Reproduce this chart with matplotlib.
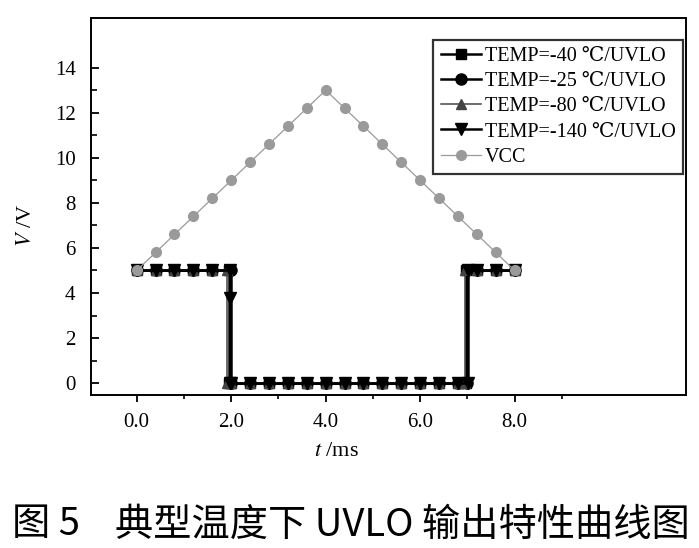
import matplotlib
matplotlib.use('Agg')
import matplotlib.pyplot as plt

# UVLO output vs. VCC at several temperatures
t_m40 = [0.0, 0.4, 0.8, 1.2, 1.6, 1.96, 1.96, 2.0, 2.4, 2.8, 3.2, 3.6, 4.0, 4.4,
         4.8, 5.2, 5.6, 6.0, 6.4, 6.8, 6.98, 6.98, 7.2, 7.6, 8.0]
v_m40 = [5, 5, 5, 5, 5, 5, 0, 0, 0, 0, 0, 0, 0, 0,
         0, 0, 0, 0, 0, 0, 0, 5, 5, 5, 5]

t_m25 = [0.0, 0.4, 0.8, 1.2, 1.6, 2.0, 2.0, 2.4, 2.8, 3.2, 3.6, 4.0, 4.4,
         4.8, 5.2, 5.6, 6.0, 6.4, 6.8, 7.0, 7.0, 7.2, 7.6, 8.0]
v_m25 = [5, 5, 5, 5, 5, 5, 0, 0, 0, 0, 0, 0, 0,
         0, 0, 0, 0, 0, 0, 0, 5, 5, 5, 5]

t_m80 = [0.0, 0.4, 0.8, 1.2, 1.6, 1.92, 1.92, 2.0, 2.4, 2.8, 3.2, 3.6, 4.0, 4.4,
         4.8, 5.2, 5.6, 6.0, 6.4, 6.8, 6.94, 6.94, 7.2, 7.6, 8.0]
v_m80 = [5, 5, 5, 5, 5, 5, 0, 0, 0, 0, 0, 0, 0, 0,
         0, 0, 0, 0, 0, 0, 0, 5, 5, 5, 5]

t_m140 = [0.0, 0.4, 0.8, 1.2, 1.6, 1.98, 1.98, 1.98, 2.0, 2.4, 2.8, 3.2, 3.6, 4.0, 4.4,
          4.8, 5.2, 5.6, 6.0, 6.4, 6.8, 7.02, 7.02, 7.2, 7.6, 8.0]
v_m140 = [5, 5, 5, 5, 5, 5, 3.8, 0, 0, 0, 0, 0, 0, 0, 0,
          0, 0, 0, 0, 0, 0, 0, 5, 5, 5, 5]

t_vcc = [0.0, 0.4, 0.8, 1.2, 1.6, 2.0, 2.4, 2.8, 3.2, 3.6, 4.0,
         4.4, 4.8, 5.2, 5.6, 6.0, 6.4, 6.8, 7.2, 7.6, 8.0]
v_vcc = [5.0, 5.8, 6.6, 7.4, 8.2, 9.0, 9.8, 10.6, 11.4, 12.2, 13.0,
         12.2, 11.4, 10.6, 9.8, 9.0, 8.2, 7.4, 6.6, 5.8, 5.0]

x_major = [0, 2, 4, 6, 8]
x_labels = ['0.0', '2.0', '4.0', '6.0', '8.0']
x_minor = [1, 3, 5, 7, 9]
y_major = [0, 2, 4, 6, 8, 10, 12, 14]
y_minor = [1, 3, 5, 7, 9, 11, 13]

caption_num = '图 5'
caption_text = '典型温度下 UVLO 输出特性曲线图'

plt.rcParams['font.family'] = ['Liberation Serif', 'DejaVu Serif', 'DejaVu Sans']
plt.rcParams['mathtext.fontset'] = 'stix'

fig = plt.figure(figsize=(6.99, 5.48), dpi=100)
ax = fig.add_axes([0.130, 0.279, 0.851, 0.688])

ax.plot(t_m40, v_m40, '-s', color='black', lw=1.8, ms=7,
        label='TEMP=-40 ℃/UVLO')
ax.plot(t_m25, v_m25, '-o', color='black', lw=1.8, ms=8,
        label='TEMP=-25 ℃/UVLO')
ax.plot(t_m80, v_m80, '-^', color='#444444', lw=1.1, ms=7,
        label='TEMP=-80 ℃/UVLO')
ax.plot(t_m140, v_m140, '-v', color='black', lw=1.8, ms=8,
        label='TEMP=-140 ℃/UVLO')
ax.plot(t_vcc, v_vcc, '-o', color='#9a9a9a', lw=0.9, ms=7,
        label='VCC')

ax.set_xlim(-0.97, 11.62)
ax.set_ylim(-0.53, 16.2)
ax.set_xticks(x_major)
ax.set_xticklabels(x_labels)
ax.set_xticks(x_minor, minor=True)
ax.set_yticks(y_major)
ax.set_yticks(y_minor, minor=True)

ax.tick_params(axis='x', which='major', direction='out', length=5, width=1.3,
               labelsize=15, pad=8)
ax.tick_params(axis='x', which='minor', direction='out', length=3, width=1.2)
ax.tick_params(axis='y', which='major', direction='in', length=6, width=1.3,
               labelsize=15, pad=11)
ax.tick_params(axis='y', which='minor', direction='in', length=4, width=1.2)
for sp in ax.spines.values():
    sp.set_linewidth(1.4)

ax.set_xlabel('$t$ /ms', fontsize=16)
ax.set_ylabel('$V$ /V', fontsize=16)
ax.xaxis.set_label_coords(0.413, -0.125)
ax.yaxis.set_label_coords(-0.092, 0.45)

leg = ax.legend(loc='upper right', bbox_to_anchor=(0.995, 0.942), borderaxespad=0,
                fontsize=14.5, frameon=True, fancybox=False, edgecolor='black',
                handlelength=2.0, handletextpad=0.2, labelspacing=0.3,
                borderpad=0.35)
leg.get_frame().set_linewidth(1.6)

cjk = ['Noto Sans CJK SC', 'DejaVu Sans']
fig.text(12 / 699, 1 - 525 / 548, caption_num, fontsize=27.5, family=cjk,
         va='center', ha='left')
fig.text(115 / 699, 1 - 525 / 548, caption_text, fontsize=27.5, family=cjk,
         va='center', ha='left')

fig.savefig('out.png', dpi=100)
